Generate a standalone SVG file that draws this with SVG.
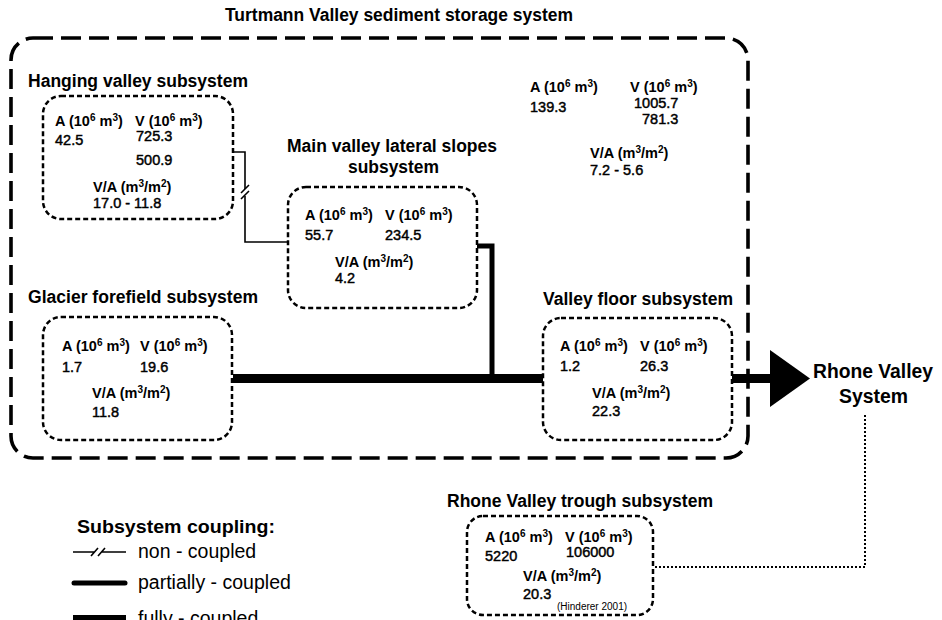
<svg xmlns="http://www.w3.org/2000/svg" width="942" height="620" viewBox="0 0 942 620">
<style>
.bg{fill:#fff}
.outer{fill:none;stroke:#000;stroke-width:3.6;stroke-dasharray:20 8}
.box{fill:none;stroke:#000;stroke-width:2.5;stroke-dasharray:5 3}
.title{font-family:"Liberation Sans",Arial,sans-serif;font-weight:bold;font-size:18px;fill:#000}
.big{font-family:"Liberation Sans",Arial,sans-serif;font-weight:bold;font-size:20px;fill:#000}
.h{font-family:"Liberation Sans",Arial,sans-serif;font-weight:bold;font-size:14.5px;fill:#000}
.n{font-family:"Liberation Sans",Arial,sans-serif;font-weight:normal;font-size:14.5px;fill:#000;stroke:#000;stroke-width:0.45}
.sup{font-size:10px}
.cite{font-family:"Liberation Sans",Arial,sans-serif;font-size:10px;fill:#000}
.leg{font-family:"Liberation Sans",Arial,sans-serif;font-size:19.5px;fill:#000}
.legh{font-family:"Liberation Sans",Arial,sans-serif;font-weight:bold;font-size:19px;fill:#000}
.non{fill:none;stroke:#000;stroke-width:1.6}
.part{fill:none;stroke:#000;stroke-width:5}
.full{fill:none;stroke:#000;stroke-width:9}
.dot{fill:none;stroke:#000;stroke-width:2;stroke-dasharray:2 2}
</style>
<rect class="bg" x="0" y="0" width="942" height="620"/>

<g id="turtmann-system">
<text class="title" x="225" y="21" textLength="348" lengthAdjust="spacingAndGlyphs">Turtmann Valley sediment storage system</text>
<rect class="outer" x="11" y="38" width="737" height="420" rx="22" ry="22"/>
<text class="h" x="530" y="92">A (10<tspan class="sup" dy="-5">6</tspan><tspan dy="5"> m</tspan><tspan class="sup" dy="-5">3</tspan><tspan dy="5">)</tspan></text>
<text class="h" x="630" y="92">V (10<tspan class="sup" dy="-5">6</tspan><tspan dy="5"> m</tspan><tspan class="sup" dy="-5">3</tspan><tspan dy="5">)</tspan></text>
<text class="n" x="530" y="112">139.3</text>
<text class="n" x="634" y="108">1005.7</text>
<text class="n" x="642" y="124">781.3</text>
<text class="h" x="590" y="158">V/A (m<tspan class="sup" dy="-5">3</tspan><tspan dy="5">/m</tspan><tspan class="sup" dy="-5">2</tspan><tspan dy="5">)</tspan></text>
<text class="n" x="590" y="175">7.2 - 5.6</text>
</g>

<g id="hanging-valley">
<text class="title" x="28" y="87" textLength="220" lengthAdjust="spacingAndGlyphs">Hanging valley subsystem</text>
<rect class="box" x="43" y="96" width="190" height="123" rx="18" ry="18"/>
<text class="h" x="55" y="126">A (10<tspan class="sup" dy="-5">6</tspan><tspan dy="5"> m</tspan><tspan class="sup" dy="-5">3</tspan><tspan dy="5">)</tspan></text>
<text class="h" x="135" y="126">V (10<tspan class="sup" dy="-5">6</tspan><tspan dy="5"> m</tspan><tspan class="sup" dy="-5">3</tspan><tspan dy="5">)</tspan></text>
<text class="n" x="55" y="145">42.5</text>
<text class="n" x="136" y="141">725.3</text>
<text class="n" x="136" y="165">500.9</text>
<text class="h" x="93" y="192">V/A (m<tspan class="sup" dy="-5">3</tspan><tspan dy="5">/m</tspan><tspan class="sup" dy="-5">2</tspan><tspan dy="5">)</tspan></text>
<text class="n" x="93" y="208">17.0 - 11.8</text>
</g>

<g id="main-valley-slopes">
<text class="title" x="287" y="152" textLength="210" lengthAdjust="spacingAndGlyphs">Main valley lateral slopes</text>
<text class="title" x="348" y="173" textLength="91" lengthAdjust="spacingAndGlyphs">subsystem</text>
<rect class="box" x="288" y="187" width="189" height="121" rx="18" ry="18"/>
<text class="h" x="305" y="220">A (10<tspan class="sup" dy="-5">6</tspan><tspan dy="5"> m</tspan><tspan class="sup" dy="-5">3</tspan><tspan dy="5">)</tspan></text>
<text class="h" x="385" y="220">V (10<tspan class="sup" dy="-5">6</tspan><tspan dy="5"> m</tspan><tspan class="sup" dy="-5">3</tspan><tspan dy="5">)</tspan></text>
<text class="n" x="305" y="240">55.7</text>
<text class="n" x="385" y="240">234.5</text>
<text class="h" x="335" y="267">V/A (m<tspan class="sup" dy="-5">3</tspan><tspan dy="5">/m</tspan><tspan class="sup" dy="-5">2</tspan><tspan dy="5">)</tspan></text>
<text class="n" x="335" y="283">4.2</text>
</g>

<g id="glacier-forefield">
<text class="title" x="28" y="303" textLength="230" lengthAdjust="spacingAndGlyphs">Glacier forefield subsystem</text>
<rect class="box" x="43" y="317" width="189" height="123" rx="18" ry="18"/>
<text class="h" x="62" y="351">A (10<tspan class="sup" dy="-5">6</tspan><tspan dy="5"> m</tspan><tspan class="sup" dy="-5">3</tspan><tspan dy="5">)</tspan></text>
<text class="h" x="140" y="351">V (10<tspan class="sup" dy="-5">6</tspan><tspan dy="5"> m</tspan><tspan class="sup" dy="-5">3</tspan><tspan dy="5">)</tspan></text>
<text class="n" x="62" y="372">1.7</text>
<text class="n" x="140" y="372">19.6</text>
<text class="h" x="92" y="398">V/A (m<tspan class="sup" dy="-5">3</tspan><tspan dy="5">/m</tspan><tspan class="sup" dy="-5">2</tspan><tspan dy="5">)</tspan></text>
<text class="n" x="92" y="417">11.8</text>
</g>

<g id="valley-floor">
<text class="title" x="543" y="305" textLength="190" lengthAdjust="spacingAndGlyphs">Valley floor subsystem</text>
<rect class="box" x="543" y="318" width="189" height="122" rx="18" ry="18"/>
<text class="h" x="560" y="351">A (10<tspan class="sup" dy="-5">6</tspan><tspan dy="5"> m</tspan><tspan class="sup" dy="-5">3</tspan><tspan dy="5">)</tspan></text>
<text class="h" x="640" y="351">V (10<tspan class="sup" dy="-5">6</tspan><tspan dy="5"> m</tspan><tspan class="sup" dy="-5">3</tspan><tspan dy="5">)</tspan></text>
<text class="n" x="560" y="371">1.2</text>
<text class="n" x="640" y="371">26.3</text>
<text class="h" x="592" y="398">V/A (m<tspan class="sup" dy="-5">3</tspan><tspan dy="5">/m</tspan><tspan class="sup" dy="-5">2</tspan><tspan dy="5">)</tspan></text>
<text class="n" x="592" y="416">22.3</text>
</g>

<g id="rhone-valley-system">
<text class="big" x="813" y="378" textLength="120" lengthAdjust="spacingAndGlyphs">Rhone Valley</text>
<text class="big" x="839" y="403" textLength="69" lengthAdjust="spacingAndGlyphs">System</text>
</g>

<g id="rhone-trough">
<text class="title" x="447" y="507" textLength="266" lengthAdjust="spacingAndGlyphs">Rhone Valley trough subsystem</text>
<rect class="box" x="467" y="516" width="186" height="99" rx="16" ry="16"/>
<text class="h" x="485" y="542">A (10<tspan class="sup" dy="-5">6</tspan><tspan dy="5"> m</tspan><tspan class="sup" dy="-5">3</tspan><tspan dy="5">)</tspan></text>
<text class="h" x="565" y="542">V (10<tspan class="sup" dy="-5">6</tspan><tspan dy="5"> m</tspan><tspan class="sup" dy="-5">3</tspan><tspan dy="5">)</tspan></text>
<text class="n" x="485" y="561">5220</text>
<text class="n" x="566" y="557">106000</text>
<text class="h" x="523" y="581">V/A (m<tspan class="sup" dy="-5">3</tspan><tspan dy="5">/m</tspan><tspan class="sup" dy="-5">2</tspan><tspan dy="5">)</tspan></text>
<text class="n" x="523" y="599">20.3</text>
<text class="cite" x="557" y="610">(Hinderer 2001)</text>
</g>

<g id="connectors">
<path class="non" d="M233 152 H245 V189 M245 196 V242 H288"/>
<path class="non" d="M241 193 L249 185 M241 199 L249 191"/>
<path class="part" d="M477 246 H492 V378"/>
<path class="full" d="M233 378.5 H543"/>
<path class="full" d="M732 378.5 H772"/>
<polygon points="770,350 810,378.5 770,407" fill="#000"/>
<path class="dot" d="M865 415 V567 H655"/>
</g>

<g id="legend">
<text class="legh" x="77" y="533" textLength="198" lengthAdjust="spacingAndGlyphs">Subsystem coupling:</text>
<path class="non" d="M73 552 H95 M102 552 H126 M91 556 L98 548 M98 556 L105 548"/>
<text class="leg" x="138" y="558">non - coupled</text>
<path class="part" d="M74 583 H125" stroke-linecap="round"/>
<text class="leg" x="138" y="589">partially - coupled</text>
<rect x="73" y="615" width="53" height="10" fill="#000"/>
<text class="leg" x="138" y="625">fully - coupled</text>
</g>
</svg>
